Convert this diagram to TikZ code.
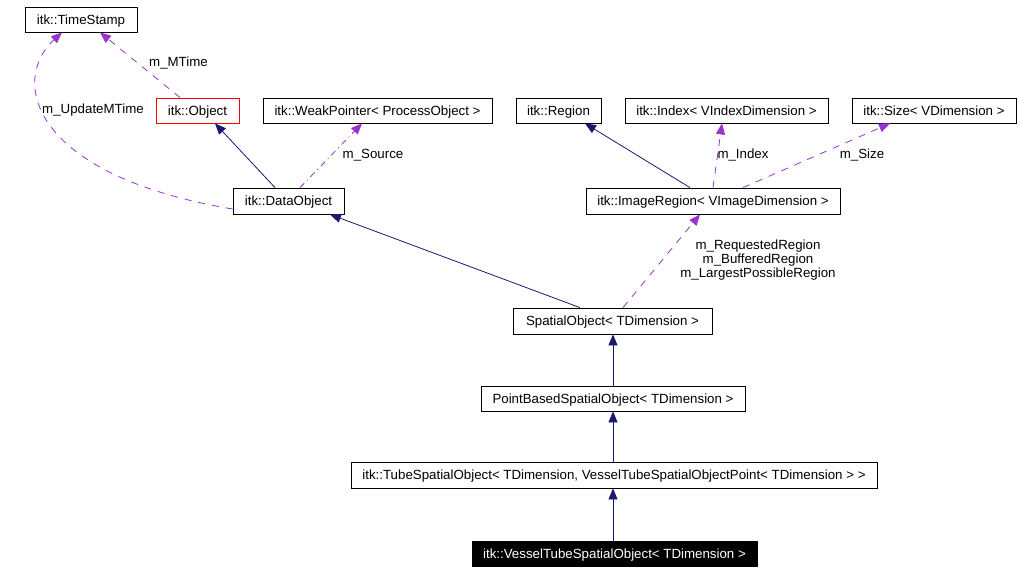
\documentclass[tikz,border=0pt]{standalone}
\usepackage{fontspec}
\setmainfont{Liberation Sans}
\usetikzlibrary{arrows.meta}
\definecolor{inh}{RGB}{25,25,112}
\definecolor{use}{RGB}{154,50,205}
\tikzset{
  box/.style={draw=black, line width=0.8pt, inner sep=0pt, minimum height=25pt, text height=10.5pt, text depth=1.5pt, font=\fontsize{13.3}{15}\selectfont},
  lbl/.style={font=\fontsize{13.3}{14}\selectfont, inner sep=0pt, align=center},
  inhe/.style={draw=inh, line width=0.8pt, -{Triangle[length=11pt,width=9pt]}},
  usee/.style={draw=use, line width=0.8pt, dash pattern=on 7pt off 7pt, -{Triangle[length=11pt,width=9pt]}},
  usedd/.style={draw=use, line width=0.8pt, dash pattern=on 6pt off 4pt on 1pt off 4pt, -{Triangle[length=11pt,width=9pt]}}
}
\begin{document}
\begin{tikzpicture}[x=1pt,y=-1pt]
\useasboundingbox[fill=white] (0,0) rectangle (1020,571);
% nodes
\node[box, minimum width=112pt] (ts) at (81,19.5) {itk::TimeStamp};
\node[box, draw=red, minimum width=83pt] (obj) at (197.5,110.5) {itk::Object};
\node[box, minimum width=229pt] (wp) at (377.5,110.5) {itk::WeakPointer< ProcessObject >};
\node[box, minimum width=111pt, minimum height=26pt] (dobj) at (288.5,201) {itk::DataObject};
\node[box, minimum width=85pt] (reg) at (558.5,110.5) {itk::Region};
\node[box, minimum width=203pt] (idx) at (726.5,110.5) {itk::Index< VIndexDimension >};
\node[box, minimum width=164pt] (sz) at (934,110.5) {itk::Size< VDimension >};
\node[box, minimum width=254pt, minimum height=26pt] (ir) at (713,201) {itk::ImageRegion< VImageDimension >};
\node[box, minimum width=199pt, minimum height=26pt] (so) at (612.5,321) {SpatialObject< TDimension >};
\node[box, minimum width=264pt] (pb) at (613,398.5) {PointBasedSpatialObject< TDimension >};
\node[box, minimum width=526pt, minimum height=26pt] (tube) at (614,475) {itk::TubeSpatialObject< TDimension, VesselTubeSpatialObjectPoint< TDimension > >};
\node[box, fill=black, text=white, minimum width=285pt] (ves) at (614.5,553.5) {itk::VesselTubeSpatialObject< TDimension >};
% edges
\draw[usee] ([xshift=-17.5pt]obj.north) -- ([xshift=19pt]ts.south);
\draw[usee] ([yshift=-8pt]dobj.west) .. controls (30,175) and (10,80) .. ([xshift=-19pt]ts.south);
\draw[inhe] ([xshift=-13.5pt]dobj.north) -- ([xshift=17.5pt]obj.south);
\draw[usedd] ([xshift=11.5pt]dobj.north) -- ([xshift=-15.5pt]wp.south);
\draw[inhe] ([xshift=-32.5pt]so.north) -- ([xshift=41.5pt]dobj.south);
\draw[usee] ([xshift=10.5pt]so.north) -- ([xshift=-13pt]ir.south);
\draw[inhe] ([xshift=-23pt]ir.north) -- ([xshift=26.5pt]reg.south);
\draw[usee] (ir.north) -- ([xshift=-4.5pt]idx.south);
\draw[usee] ([xshift=30pt]ir.north) -- ([xshift=-44pt]sz.south);
\draw[inhe] (pb.north) -- (pb.north |- so.south);
\draw[inhe] (pb.south |- tube.north) -- (pb.south);
\draw[inhe] (pb.south |- ves.north) -- (pb.south |- tube.south);
% labels
\node[lbl] (l1) at (178.5,63) {m\_MTime};
\node[lbl] (l2) at (93,110) {m\_UpdateMTime};
\node[lbl] (l3) at (373,155) {m\_Source};
\node[lbl] (l4) at (743,155) {m\_Index};
\node[lbl] (l5) at (862,155) {m\_Size};
\node[lbl] (l6) at (758,246) {m\_RequestedRegion};
\node[lbl] (l7) at (758,260) {m\_BufferedRegion};
\node[lbl] (l8) at (758,274) {m\_LargestPossibleRegion};
\end{tikzpicture}
\end{document}
